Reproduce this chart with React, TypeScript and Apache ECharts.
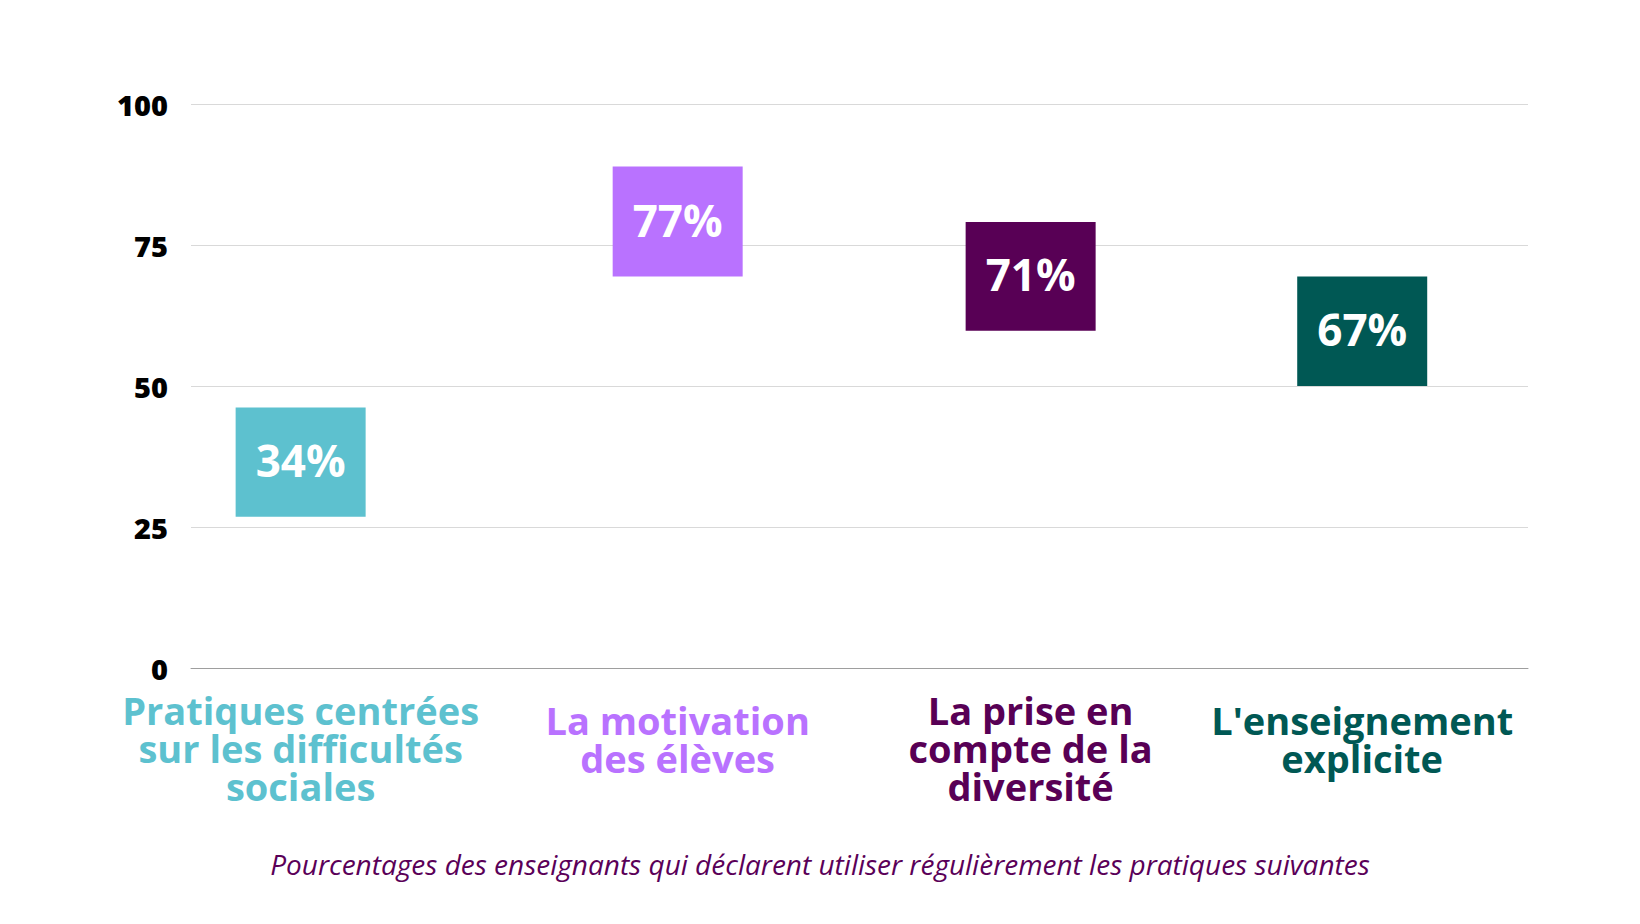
import React, { useEffect, useRef } from "react";
import * as echarts from "echarts";

const categories = [
  "Pratiques centrées\nsur les difficultés\nsociales",
  "La motivation\ndes élèves",
  "La prise en\ncompte de la\ndiversité",
  "L'enseignement\nexplicite",
];
const percentValues = [34, 77, 71, 67];
const positionsX = [8.2, 36.4, 62.8, 87.6];
const boxLow = [26.8, 69.4, 59.8, 50.0];
const boxHigh = [46.2, 88.9, 79.1, 69.4];
const colors = ["#5DC1CF", "#B972FF", "#580055", "#005854"];
const yTicks = [0, 25, 50, 75, 100];
const subtitle =
  "Pourcentages des enseignants qui déclarent utiliser régulièrement les pratiques suivantes";

export default function App() {
  const ref = useRef<HTMLDivElement>(null);
  useEffect(() => {
    if (!ref.current) return;
    const chart = echarts.init(ref.current, null, { renderer: "svg" });
    const data = positionsX.map((x, i) => [x, boxLow[i], boxHigh[i]]);
    chart.setOption({
      animation: false,
      backgroundColor: "#ffffff",
      title: {
        text: subtitle,
        left: "center",
        top: 845,
        textStyle: {
          fontFamily: "Open Sans",
          fontStyle: "italic",
          fontWeight: "normal",
          fontSize: 28,
          color: "#5A0058",
        },
      },
      grid: { left: 191, right: 112, top: 104, bottom: 256 },
      xAxis: {
        type: "value",
        min: 0,
        max: 100,
        axisLabel: { show: false },
        axisTick: { show: false },
        splitLine: { show: false },
        axisLine: { show: true, lineStyle: { color: "#9e9e9e", width: 1 } },
      },
      yAxis: {
        type: "value",
        min: yTicks[0],
        max: yTicks[yTicks.length - 1],
        interval: 25,
        axisLine: { show: false },
        axisTick: { show: false },
        axisLabel: {
          color: "#000000",
          fontFamily: "Open Sans",
          fontWeight: 800,
          fontSize: 29,
          margin: 23,
          padding: [0, 0, 3, 0],
        },
        splitLine: { lineStyle: { color: "#d9d9d9", width: 1 } },
      },
      series: [
        {
          type: "custom",
          clip: false,
          data,
          encode: { x: 0, y: [1, 2] },
          renderItem: (params: any, api: any) => {
            const i = params.dataIndex;
            const x = api.value(0);
            const top = api.coord([x, api.value(2)]);
            const bot = api.coord([x, api.value(1)]);
            const base = api.coord([x, 0]);
            const w = 130;
            const nLines = categories[i].split("\n").length;
            const labelY = base[1] + 80 - (3 - nLines) * 9;
            return {
              type: "group",
              children: [
                {
                  type: "rect",
                  shape: { x: top[0] - w / 2, y: top[1], width: w, height: bot[1] - top[1] },
                  style: { fill: colors[i] },
                },
                {
                  type: "text",
                  style: {
                    text: percentValues[i] + "%",
                    x: top[0],
                    y: (top[1] + bot[1]) / 2 - 2,
                    fill: "#ffffff",
                    fontFamily: "Open Sans",
                    fontWeight: "bold",
                    fontSize: 44,
                    align: "center",
                    verticalAlign: "middle",
                  },
                },
                {
                  type: "text",
                  style: {
                    text: categories[i],
                    x: base[0],
                    y: labelY,
                    fill: colors[i],
                    fontFamily: "Open Sans",
                    fontWeight: "bold",
                    fontSize: 38,
                    lineHeight: 38,
                    align: "center",
                    verticalAlign: "middle",
                  },
                },
              ],
            };
          },
        },
      ],
    });
    return () => chart.dispose();
  }, []);
  return (
    <div
      ref={ref}
      style={{ position: "fixed", left: 0, top: 0, width: 1640, height: 924 }}
    />
  );
}
